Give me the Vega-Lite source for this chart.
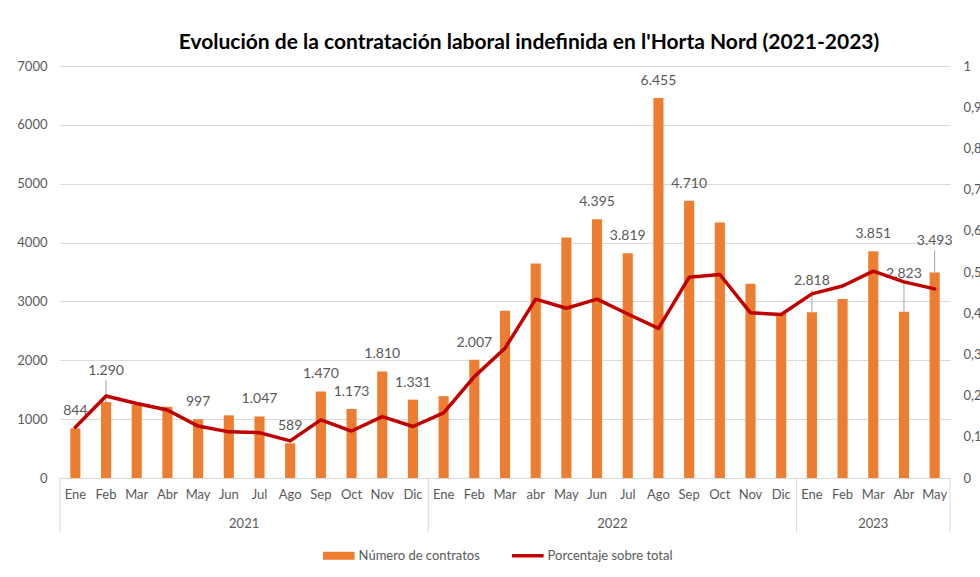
{
  "$schema": "https://vega.github.io/schema/vega-lite/v6.json",
  "autosize": {"type": "none"},
  "width": 890,
  "height": 412,
  "padding": {"left": 60, "top": 66, "right": 30, "bottom": 99},
  "background": "white",
  "config": {
    "locale": {"number": {"decimal": ",", "thousands": ".", "grouping": [3], "currency": ["", " €"]}},
    "font": "Lato",
    "view": {"stroke": null},
    "axis": {"labelFont": "Lato", "labelColor": "#595959", "labelFontSize": 13}
  },
  "title": {
    "text": "Evolución de la contratación laboral indefinida en l'Horta Nord (2021-2023)",
    "fontSize": 21, "fontWeight": "bold", "color": "#000000", "font": "Lato",
    "anchor": "middle", "dx": 24, "offset": 7
  },
  "data": {"values": [
    {"year": "2021", "month": "Ene", "key": "2021-Ene", "contratos": 844, "porcentaje": 0.123},
    {"year": "2021", "month": "Feb", "key": "2021-Feb", "contratos": 1290, "porcentaje": 0.199},
    {"year": "2021", "month": "Mar", "key": "2021-Mar", "contratos": 1240, "porcentaje": 0.181},
    {"year": "2021", "month": "Abr", "key": "2021-Abr", "contratos": 1210, "porcentaje": 0.165},
    {"year": "2021", "month": "May", "key": "2021-May", "contratos": 997, "porcentaje": 0.126},
    {"year": "2021", "month": "Jun", "key": "2021-Jun", "contratos": 1065, "porcentaje": 0.112},
    {"year": "2021", "month": "Jul", "key": "2021-Jul", "contratos": 1047, "porcentaje": 0.110},
    {"year": "2021", "month": "Ago", "key": "2021-Ago", "contratos": 589, "porcentaje": 0.090},
    {"year": "2021", "month": "Sep", "key": "2021-Sep", "contratos": 1470, "porcentaje": 0.141},
    {"year": "2021", "month": "Oct", "key": "2021-Oct", "contratos": 1173, "porcentaje": 0.114},
    {"year": "2021", "month": "Nov", "key": "2021-Nov", "contratos": 1810, "porcentaje": 0.149},
    {"year": "2021", "month": "Dic", "key": "2021-Dic", "contratos": 1331, "porcentaje": 0.125},
    {"year": "2022", "month": "Ene", "key": "2022-Ene", "contratos": 1390, "porcentaje": 0.158},
    {"year": "2022", "month": "Feb", "key": "2022-Feb", "contratos": 2007, "porcentaje": 0.246},
    {"year": "2022", "month": "Mar", "key": "2022-Mar", "contratos": 2840, "porcentaje": 0.315},
    {"year": "2022", "month": "abr", "key": "2022-abr", "contratos": 3645, "porcentaje": 0.434},
    {"year": "2022", "month": "May", "key": "2022-May", "contratos": 4085, "porcentaje": 0.412},
    {"year": "2022", "month": "Jun", "key": "2022-Jun", "contratos": 4395, "porcentaje": 0.434},
    {"year": "2022", "month": "Jul", "key": "2022-Jul", "contratos": 3819, "porcentaje": 0.398},
    {"year": "2022", "month": "Ago", "key": "2022-Ago", "contratos": 6455, "porcentaje": 0.363},
    {"year": "2022", "month": "Sep", "key": "2022-Sep", "contratos": 4710, "porcentaje": 0.487},
    {"year": "2022", "month": "Oct", "key": "2022-Oct", "contratos": 4340, "porcentaje": 0.494},
    {"year": "2022", "month": "Nov", "key": "2022-Nov", "contratos": 3300, "porcentaje": 0.401},
    {"year": "2022", "month": "Dic", "key": "2022-Dic", "contratos": 2790, "porcentaje": 0.397},
    {"year": "2023", "month": "Ene", "key": "2023-Ene", "contratos": 2818, "porcentaje": 0.447},
    {"year": "2023", "month": "Feb", "key": "2023-Feb", "contratos": 3040, "porcentaje": 0.466},
    {"year": "2023", "month": "Mar", "key": "2023-Mar", "contratos": 3851, "porcentaje": 0.502},
    {"year": "2023", "month": "Abr", "key": "2023-Abr", "contratos": 2823, "porcentaje": 0.476},
    {"year": "2023", "month": "May", "key": "2023-May", "contratos": 3493, "porcentaje": 0.459}
  ]},
  "encoding": {
    "x": {
      "field": "key", "type": "nominal", "sort": null,
      "scale": {"paddingInner": 0.67, "paddingOuter": 0.335},
      "axis": {"title": null, "labelExpr": "slice(datum.value, 5)", "labelAngle": 0, "ticks": false,
               "domainColor": "#d9d9d9", "domainWidth": 1, "labelPadding": 10, "labelFontSize": 13}
    }
  },
  "layer": [
    {
      "encoding": {
        "y": {"field": "contratos", "type": "quantitative",
              "scale": {"domain": [0, 7000], "nice": false},
              "axis": {"title": null, "values": [0, 1000, 2000, 3000, 4000, 5000, 6000, 7000], "format": "d",
                       "grid": true, "gridColor": "#d9d9d9", "domain": false, "ticks": false, "labelPadding": 13}}
      },
      "layer": [
        {
          "mark": {"type": "bar", "color": "#ED7D31"},
          "encoding": {
            "color": {"datum": "Número de contratos", "type": "nominal",
              "scale": {"domain": ["Número de contratos", "Porcentaje sobre total"], "range": ["#ED7D31", "#C00000"]},
              "legend": {
                "orient": "none", "legendX": 263, "legendY": 483, "direction": "horizontal", "title": null,
                "labelFontSize": 13, "labelColor": "#595959", "labelFont": "Lato", "columnPadding": 24,
                "labelOffset": 4, "symbolSize": 1000, "padding": 0,
                "encode": {
                  "symbols": {"update": {
                    "x": {"value": 15.8},
                    "size": {"value": 1000},
                    "shape": {"signal": "datum.value === 'Número de contratos' ? 'M-1,-0.26H1V0.26H-1Z' : 'M-1,0H1'"},
                    "fill": {"signal": "datum.value === 'Número de contratos' ? '#ED7D31' : 'transparent'"},
                    "stroke": {"signal": "datum.value === 'Número de contratos' ? 'transparent' : '#C00000'"},
                    "strokeWidth": {"signal": "datum.value === 'Número de contratos' ? 0 : 3.5"},
                    "opacity": {"value": 1}
                  }},
                  "labels": {"update": {"x": {"value": 35.6}}}
                }
              }
            }
          }
        },
        {
          "transform": [{"filter": "datum.month === 'Ene'"}],
          "mark": {"type": "rule", "color": "#d9d9d9", "strokeWidth": 1, "xOffset": -15.35, "y2Offset": 54},
          "encoding": {"y": {"datum": 0}, "y2": {"datum": 0}}
        },
        {
          "transform": [{"filter": "datum.key === '2023-May'"}],
          "mark": {"type": "rule", "color": "#d9d9d9", "strokeWidth": 1, "xOffset": 15.35, "y2Offset": 54},
          "encoding": {"y": {"datum": 0}, "y2": {"datum": 0}}
        },
        {
          "transform": [{"filter": "datum.key === '2021-Jul' || datum.key === '2022-Jul'"}],
          "mark": {"type": "text", "color": "#595959", "fontSize": 13, "baseline": "middle", "dy": 46, "xOffset": -15.35},
          "encoding": {"y": {"datum": 0}, "text": {"field": "year"}}
        },
        {
          "transform": [{"filter": "datum.key === '2023-Mar'"}],
          "mark": {"type": "text", "color": "#595959", "fontSize": 13, "baseline": "middle", "dy": 46},
          "encoding": {"y": {"datum": 0}, "text": {"field": "year"}}
        },
        {
          "transform": [{"filter": "indexof(['2021-Ene','2021-May','2021-Jul','2021-Ago','2021-Sep','2021-Oct','2021-Nov','2021-Dic','2022-Feb','2022-Jun','2022-Jul','2022-Ago','2022-Sep','2023-Mar'], datum.key) >= 0"}],
          "mark": {"type": "text", "color": "#595959", "fontSize": 14, "baseline": "middle", "dy": -17},
          "encoding": {"text": {"field": "contratos", "type": "quantitative", "format": ",d"}}
        },
        {
          "transform": [{"filter": "indexof(['2021-Feb','2023-Ene','2023-May'], datum.key) >= 0"}],
          "mark": {"type": "rule", "color": "#a6a6a6", "strokeWidth": 1, "y2Offset": -22},
          "encoding": {"y2": {"field": "contratos"}}
        },
        {
          "transform": [{"filter": "datum.key === '2023-Abr'"}],
          "mark": {"type": "rule", "color": "#a6a6a6", "strokeWidth": 1, "y2Offset": -29},
          "encoding": {"y2": {"field": "contratos"}}
        },
        {
          "transform": [{"filter": "indexof(['2021-Feb','2023-Ene','2023-May'], datum.key) >= 0"}],
          "mark": {"type": "text", "color": "#595959", "fontSize": 14, "baseline": "middle", "dy": -31},
          "encoding": {"text": {"field": "contratos", "type": "quantitative", "format": ",d"}}
        },
        {
          "transform": [{"filter": "datum.key === '2023-Abr'"}],
          "mark": {"type": "text", "color": "#595959", "fontSize": 14, "baseline": "middle", "dy": -38},
          "encoding": {"text": {"field": "contratos", "type": "quantitative", "format": ",d"}}
        }
      ]
    },
    {
      "mark": {"type": "line", "strokeWidth": 3.5, "strokeJoin": "round", "strokeCap": "round"},
      "encoding": {
        "y": {"field": "porcentaje", "type": "quantitative",
              "scale": {"domain": [0, 1], "nice": false},
              "axis": {"orient": "right", "title": null, "values": [0, 0.1, 0.2, 0.3, 0.4, 0.5, 0.6, 0.7, 0.8, 0.9, 1],
                       "format": ".1~f", "grid": false, "domain": false, "ticks": false, "labelPadding": 13, "labelAlign": "left"}},
        "color": {"datum": "Porcentaje sobre total", "type": "nominal"}
      }
    }
  ],
  "resolve": {"scale": {"y": "independent"}}
}
